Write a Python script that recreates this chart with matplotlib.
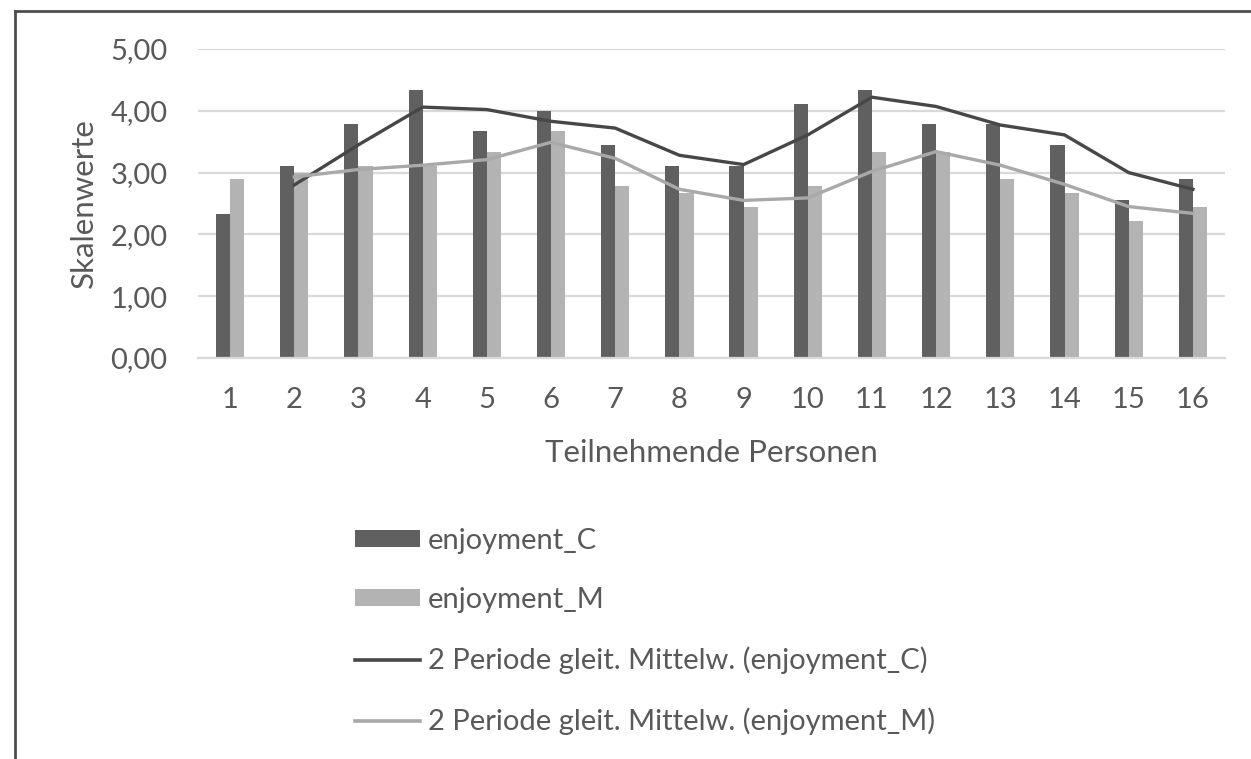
import matplotlib
matplotlib.use("Agg")
import matplotlib.pyplot as plt
from matplotlib.lines import Line2D
from matplotlib.patches import Patch
import numpy as np

# Participants and scale values
participants = [str(i) for i in range(1, 17)]
enjoyment_c = [2.33, 3.11, 3.78, 4.33, 3.67, 4.00, 3.44, 3.11,
               3.11, 4.11, 4.33, 3.78, 3.78, 3.44, 2.56, 2.89]
enjoyment_m = [2.89, 3.00, 3.11, 3.11, 3.33, 3.67, 2.78, 2.67,
               2.44, 2.78, 3.33, 3.33, 2.89, 2.67, 2.22, 2.44]

# 2-period moving averages (trend lines, starting at participant 2)
ma_c = [2.80, 3.45, 4.06, 4.02, 3.83, 3.72, 3.28, 3.13,
        3.61, 4.22, 4.07, 3.77, 3.61, 3.00, 2.73]
ma_m = [2.93, 3.05, 3.12, 3.21, 3.49, 3.23, 2.73, 2.55,
        2.59, 3.02, 3.34, 3.12, 2.81, 2.45, 2.34]

y_ticks = [0, 1, 2, 3, 4, 5]
y_ticklabels = ["0,00", "1,00", "2,00", "3,00", "4,00", "5,00"]

COL_C = "#606060"
COL_M = "#b3b3b3"
LINE_C = "#474747"
LINE_M = "#a9a9a9"
GRID = "#d9d9d9"
TEXT = "#595959"

plt.rcParams["font.family"] = ["Lato", "DejaVu Sans"]

W, H = 1251, 759
fig = plt.figure(figsize=(W / 100, H / 100), dpi=100)
fig.patch.set_facecolor("white")

ax_left, ax_right = 198 / W, 1225 / W
ax_top, ax_bottom = 1 - 49 / H, 1 - 358 / H
ax = fig.add_axes([ax_left, ax_bottom, ax_right - ax_left, ax_top - ax_bottom])

x = np.arange(len(participants))
bw = 0.22
ax.bar(x - bw / 2, enjoyment_c, width=bw, color=COL_C, zorder=2)
ax.bar(x + bw / 2, enjoyment_m, width=bw, color=COL_M, zorder=2)

x_ma = x[1:]
ax.plot(x_ma, ma_c, color=LINE_C, lw=2.4, zorder=3, solid_joinstyle="round")
ax.plot(x_ma, ma_m, color=LINE_M, lw=2.4, zorder=3, solid_joinstyle="round")

ax.set_xlim(-0.5, len(participants) - 0.5)
ax.set_ylim(0, 5)
ax.set_yticks(y_ticks)
ax.set_yticklabels(y_ticklabels)
ax.set_xticks(x)
ax.set_xticklabels(participants)
ax.yaxis.grid(True, color=GRID, lw=1.6, zorder=0)
ax.set_axisbelow(True)
for s in ["top", "right", "left"]:
    ax.spines[s].set_visible(False)
ax.spines["bottom"].set_color(GRID)
ax.spines["bottom"].set_linewidth(1.6)
ax.tick_params(axis="both", length=0, labelsize=21, labelcolor=TEXT)
ax.tick_params(axis="x", pad=21)
ax.tick_params(axis="y", pad=22)

fig.text(711.5 / W, 1 - 453 / H, "Teilnehmende Personen", ha="center",
         va="center", fontsize=22.5, color=TEXT)
fig.text(84 / W, 1 - 203.5 / H, "Skalenwerte", ha="center", va="center",
         rotation=90, fontsize=22.5, color=TEXT)

handles = [
    Patch(facecolor=COL_C, edgecolor="none"),
    Patch(facecolor=COL_M, edgecolor="none"),
    Line2D([], [], color=LINE_C, lw=2.6),
    Line2D([], [], color=LINE_M, lw=2.6),
]
labels = ["enjoyment_C", "enjoyment_M",
          "2 Periode gleit. Mittelw. (enjoyment_C)",
          "2 Periode gleit. Mittelw. (enjoyment_M)"]
leg = fig.legend(handles, labels, loc="upper left",
                 bbox_to_anchor=(355 / W, 1 - 528 / H), frameon=False,
                 fontsize=21, handlelength=2.23, handleheight=0.52,
                 handletextpad=0.27, labelspacing=1.14, labelcolor=TEXT,
                 borderpad=0, borderaxespad=0)

# Frame lines at the top and left edge
fig.add_artist(Line2D([15 / W, 1.0], [1 - 11 / H, 1 - 11 / H],
                      transform=fig.transFigure, color="#4d4d4d", lw=2))
fig.add_artist(Line2D([15 / W, 15 / W], [0, 1 - 11 / H],
                      transform=fig.transFigure, color="#4d4d4d", lw=2))

fig.savefig("out.png", dpi=100)
